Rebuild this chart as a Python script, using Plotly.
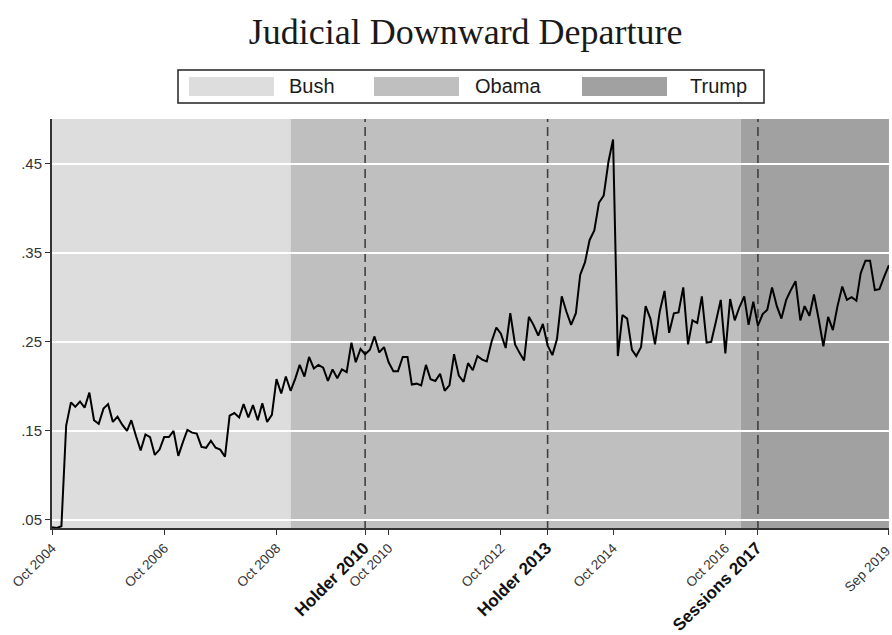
import pandas as pd
import plotly.graph_objects as go

# ---------------- data ----------------
start_month = "2004-10-01"
departure_rate = [
    0.042, 0.041, 0.043, 0.156, 0.182, 0.177, 0.183, 0.176, 0.193, 0.162,
    0.158, 0.175, 0.180, 0.160, 0.166, 0.157, 0.150, 0.162, 0.144, 0.128,
    0.146, 0.143, 0.123, 0.129, 0.143, 0.143, 0.150, 0.122, 0.138, 0.151,
    0.148, 0.147, 0.132, 0.131, 0.139, 0.131, 0.129, 0.121, 0.167, 0.170,
    0.165, 0.180, 0.165, 0.179, 0.162, 0.181, 0.160, 0.168, 0.208, 0.192,
    0.211, 0.195, 0.209, 0.224, 0.211, 0.233, 0.220, 0.224, 0.221, 0.206,
    0.219, 0.209, 0.219, 0.216, 0.249, 0.227, 0.242, 0.236, 0.241, 0.256,
    0.238, 0.244, 0.227, 0.217, 0.217, 0.233, 0.233, 0.202, 0.203, 0.201,
    0.224, 0.208, 0.206, 0.214, 0.195, 0.201, 0.236, 0.212, 0.205, 0.226,
    0.218, 0.234, 0.230, 0.228, 0.250, 0.266, 0.259, 0.243, 0.282, 0.247,
    0.237, 0.229, 0.278, 0.269, 0.257, 0.270, 0.246, 0.235, 0.253, 0.301,
    0.284, 0.269, 0.282, 0.325, 0.339, 0.364, 0.375, 0.406, 0.414, 0.452,
    0.477, 0.234, 0.280, 0.276, 0.241, 0.234, 0.244, 0.290, 0.276, 0.247,
    0.284, 0.307, 0.260, 0.282, 0.283, 0.311, 0.247, 0.274, 0.271, 0.301,
    0.249, 0.250, 0.273, 0.297, 0.237, 0.298, 0.274, 0.289, 0.301, 0.269,
    0.295, 0.268, 0.281, 0.286, 0.311, 0.290, 0.276, 0.297, 0.308, 0.318,
    0.274, 0.290, 0.279, 0.303, 0.275, 0.245, 0.278, 0.263, 0.290, 0.312,
    0.297, 0.300, 0.296, 0.327, 0.341, 0.341, 0.308, 0.309, 0.323, 0.336,
]
months = pd.date_range(start_month, periods=len(departure_rate), freq="MS")

period_names = ["Bush", "Obama", "Trump"]
period_starts = ["2004-10-01", "2009-01-01", "2017-01-10"]
period_ends = ["2009-01-01", "2017-01-10", "2019-09-01"]

event_labels = ["Holder 2010", "Holder 2013", "Sessions 2017"]
event_dates = ["2010-05-01", "2013-08-01", "2017-05-01"]

date_tick_vals = ["2004-10-01", "2006-10-01", "2008-10-01", "2010-10-01",
                  "2012-10-01", "2014-10-01", "2016-10-01", "2019-09-01"]
date_tick_text = ["Oct 2004", "Oct 2006", "Oct 2008", "Oct 2010",
                  "Oct 2012", "Oct 2014", "Oct 2016", "Sep 2019"]

y_tick_vals = [0.05, 0.15, 0.25, 0.35, 0.45]
y_tick_text = [".05", ".15", ".25", ".35", ".45"]

# ---------------- styles ----------------
period_colors = ["#dddddd", "#bfbfbf", "#a1a1a1"]
axis_color = "#333333"
sans = "Liberation Sans, Arial, sans-serif"
serif = "Liberation Serif, Times New Roman, serif"

W, H = 892, 635
L, R, T, B = 52, 3, 119, 107
pw, ph = W - L - R, H - T - B


def px_x(p):
    return (p - L) / pw


def px_y(p):
    return (H - B - p) / ph


fig = go.Figure()
fig.add_trace(go.Scatter(x=months, y=departure_rate, mode="lines",
                         line=dict(color="black", width=2),
                         showlegend=False, hoverinfo="x+y"))

shapes = []
for s, e, c in zip(period_starts, period_ends, period_colors):
    shapes.append(dict(type="rect", xref="x", yref="paper", x0=s, x1=e,
                       y0=0, y1=1, fillcolor=c, line=dict(width=0),
                       layer="below"))
for d in event_dates:
    shapes.append(dict(type="line", xref="x", yref="paper", x0=d, x1=d,
                       y0=0, y1=1, line=dict(color="#404040", width=1.6,
                                             dash="9px,5px"),
                       layer="between"))

# legend (drawn manually as a boxed key row)
box = (178, 70, 764, 103)
shapes.append(dict(type="rect", xref="paper", yref="paper",
                   x0=px_x(box[0]), x1=px_x(box[2]),
                   y0=px_y(box[3]), y1=px_y(box[1]),
                   line=dict(color="#222222", width=1.5),
                   fillcolor="white", layer="above"))
swatch_left = [189, 374, 582]
text_left = [287, 473, 688]
annotations = []
for name, c, sx, tx in zip(period_names, period_colors, swatch_left, text_left):
    shapes.append(dict(type="rect", xref="paper", yref="paper",
                       x0=px_x(sx), x1=px_x(sx + 85),
                       y0=px_y(96), y1=px_y(77),
                       fillcolor=c, line=dict(width=0), layer="above"))
    annotations.append(dict(xref="paper", yref="paper", x=px_x(tx),
                            y=px_y(86.5), text=name, showarrow=False,
                            xanchor="left", yanchor="middle",
                            font=dict(family=sans, size=20, color="#1a1a1a")))

# last date label nudged inward slightly (invisible trailing glyph)
date_tick_labels = list(date_tick_text)
date_tick_labels[-1] = (date_tick_labels[-1]
                        + "<span style='fill-opacity:0'>.</span>")
tick_vals = date_tick_vals + event_dates
tick_text = date_tick_labels + [
    "<b><span style='font-size:17px;fill:#111'>%s</span></b>" % t
    for t in event_labels]

x_range = [months[0] - pd.Timedelta(hours=6), months[-1] + pd.Timedelta(hours=6)]

fig.update_layout(
    width=W, height=H,
    margin=dict(l=L, r=R, t=T, b=B, autoexpand=False),
    plot_bgcolor="white", paper_bgcolor="white",
    showlegend=False,
    title=dict(text="Judicial Downward Departure", x=0.522, xanchor="center",
               xref="container", y=1 - 31 / H, yanchor="middle",
               font=dict(family=serif, size=36, color="#1a1a1a")),
    shapes=shapes,
    annotations=annotations,
    xaxis=dict(type="date", range=x_range, automargin=False,
               tickmode="array", tickvals=tick_vals, ticktext=tick_text,
               tickangle=-45, ticks="outside", ticklen=5, tickwidth=1.3,
               tickcolor=axis_color, showline=True, linecolor=axis_color,
               linewidth=2, showgrid=False, zeroline=False,
               ticklabeloverflow="allow",
               tickfont=dict(family=sans, size=13.5, color="#333333")),
    yaxis=dict(range=[0.041, 0.5], tickmode="array", tickvals=y_tick_vals,
               automargin=False,
               ticktext=y_tick_text, ticks="outside", ticklen=5,
               tickwidth=1.3, tickcolor=axis_color, showline=True,
               linecolor=axis_color, linewidth=2, showgrid=True,
               gridcolor="white", gridwidth=2, zeroline=False,
               tickfont=dict(family=sans, size=15, color="#333333")),
)

fig.write_html("out.html", config={"displayModeBar": False},
               post_script="document.body.style.margin='0';")
